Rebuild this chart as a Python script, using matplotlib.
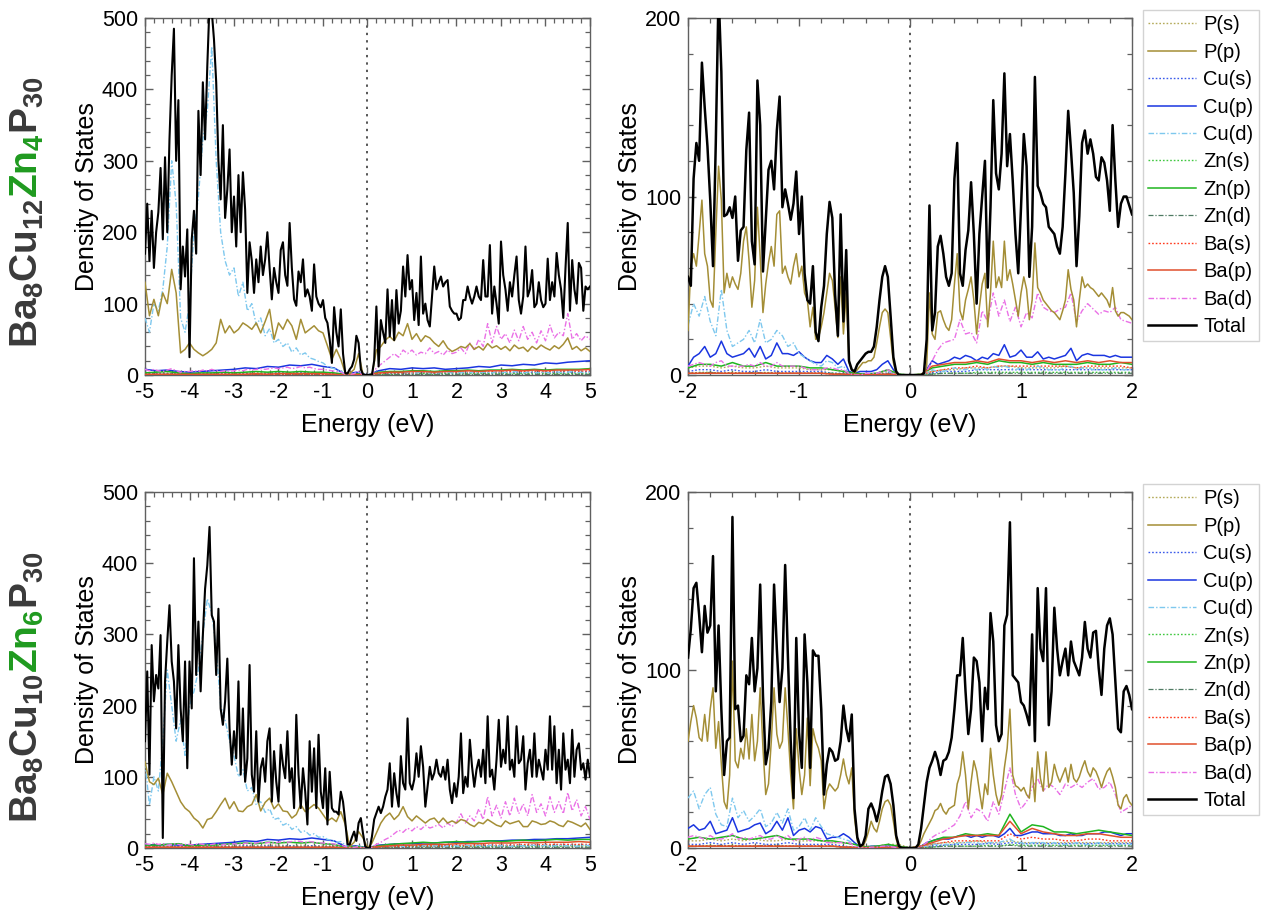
import numpy as np
import matplotlib
matplotlib.use('Agg')
import matplotlib.pyplot as plt
from matplotlib.ticker import MultipleLocator

plt.rcParams['font.family'] = ['Liberation Sans', 'DejaVu Sans']
plt.rcParams['mathtext.fontset'] = 'custom'
plt.rcParams['mathtext.rm'] = 'Liberation Sans'
plt.rcParams['mathtext.bf'] = 'Liberation Sans:bold'
plt.rcParams['mathtext.default'] = 'bf'
plt.rcParams['axes.unicode_minus'] = False

# ------------------------------------------------------------------ labels
series_labels = ['P(s)', 'P(p)', 'Cu(s)', 'Cu(p)', 'Cu(d)', 'Zn(s)', 'Zn(p)',
                 'Zn(d)', 'Ba(s)', 'Ba(p)', 'Ba(d)', 'Total']
formula_top = [(r'$Ba_{8}Cu_{12}$', '#3a3a3a'), (r'$Zn_{4}$', '#1f9a1f'), (r'$P_{30}$', '#3a3a3a')]
formula_bot = [(r'$Ba_{8}Cu_{10}$', '#3a3a3a'), (r'$Zn_{6}$', '#1f9a1f'), (r'$P_{30}$', '#3a3a3a')]

# ================================================================ TOP LEFT (-5..5 eV)
TL_total = [170, 240, 160, 230, 150, 200, 228, 290, 190, 305,
            200, 330, 420, 485, 300, 385, 120, 180, 138, 204,
            25, 190, 230, 170, 370, 280, 410, 330, 433, 520,
            510, 470, 410, 300, 246, 350, 220, 260, 316, 200,
            250, 180, 280, 200, 284, 232, 115, 186, 160, 115,
            162, 130, 180, 140, 162, 200, 150, 106, 150, 130,
            115, 175, 186, 140, 125, 213, 150, 106, 97, 145,
            130, 162, 110, 120, 110, 90, 155, 110, 100, 95,
            105, 80, 73, 50, 17, 95, 60, 40, 92, 30,
            3, 2, 8, 12, 22, 55, 45, 8, 1, 0,
            0,
            0, 0, 20, 96, 12, 77, 60, 45, 120, 54,
            105, 49, 119, 72, 90, 152, 110, 168, 120, 133,
            77, 115, 70, 166, 86, 100, 77, 68, 110, 152,
            120, 130, 138, 124, 130, 133, 96, 90, 86, 86,
            77, 80, 105, 105, 124, 110, 100, 110, 124, 110,
            105, 161, 110, 110, 182, 86, 124, 100, 72, 187,
            140, 120, 90, 130, 110, 140, 166, 105, 86, 110,
            180, 110, 120, 147, 95, 100, 130, 105, 95, 100,
            163, 105, 130, 110, 171, 140, 120, 80, 150, 213,
            90, 161, 120, 100, 157, 150, 90, 124, 120, 124]
TL_pp = [130, 83, 106, 83, 115, 100, 148, 115, 31, 36,
         45, 36, 31, 27, 31, 36, 45, 78, 59, 69,
         59, 64, 73, 69, 64, 73, 59, 75, 92, 50,
         73, 64, 78, 69, 50, 78, 59, 64, 69, 62,
         59, 41, 22, 36, 22, 3, 2, 8, 30, 1,
         0,
         0, 35, 40, 49, 54, 48, 60, 55, 72, 50,
         58, 47, 55, 52, 45, 40, 48, 38, 33, 36,
         40, 38, 44, 36, 40, 35, 44, 38, 41, 36,
         40, 34, 42, 37, 39, 33, 40, 36, 42, 38,
         35, 41, 37, 43, 52, 36, 40, 34, 38, 33]
TL_cud = [80, 60, 100, 90, 120, 180, 300, 240, 80, 60,
          100, 200, 250, 330, 370, 460, 300, 200, 160, 140,
          150, 110, 130, 90, 100, 70, 80, 55, 65, 45,
          50, 40, 45, 32, 38, 28, 31, 24, 22, 19,
          17, 12, 10, 8, 6, 1, 1, 2, 4, 0,
          0,
          0, 4, 3, 4, 3, 5, 4, 3, 4, 3,
          3, 4, 5, 3, 4, 3, 4, 4, 3, 5,
          3, 4, 3, 5, 3, 4, 4, 3, 5, 3,
          4, 3, 5, 4, 3, 4, 5, 3, 4, 4,
          3, 5, 4, 3, 4, 5, 3, 4, 3, 4]
TL_bad = [8, 6, 8, 6, 5, 7, 9, 6, 4, 5,
          5, 6, 5, 7, 6, 8, 6, 5, 6, 5,
          6, 7, 6, 8, 7, 8, 9, 8, 9, 10,
          9, 10, 11, 9, 10, 12, 10, 11, 9, 8,
          8, 7, 6, 5, 4, 1, 1, 2, 5, 0,
          0,
          0, 10, 15, 20, 25, 30, 25, 35, 30, 35,
          28, 32, 30, 38, 30, 33, 28, 35, 30, 32,
          38, 30, 45, 35, 50, 40, 72, 45, 68, 50,
          58, 45, 63, 48, 68, 50, 60, 45, 62, 48,
          70, 52, 60, 55, 86, 50, 58, 48, 55, 50]
TL_ps = [3, 3, 3, 2, 2, 2, 3, 3, 3, 3, 4, 3, 4, 3, 4, 3, 3, 3, 0, 1, 0,
         2, 2, 3, 3, 3, 3, 3, 3, 3, 3, 3, 3, 3, 3, 4, 3, 3, 4, 3, 3]
TL_cus = [2, 2, 2, 1, 1, 1, 2, 2, 2, 2, 2, 2, 3, 2, 3, 2, 2, 2, 0, 1, 0,
          2, 2, 3, 2, 3, 2, 3, 3, 3, 3, 3, 3, 4, 3, 4, 4, 4, 4, 4, 5]
TL_cup = [8, 6, 7, 5, 4, 5, 6, 7, 8, 10, 9, 12, 11, 14, 13, 15, 12, 10, 1, 4, 0,
          6, 9, 8, 10, 9, 10, 8, 9, 10, 12, 11, 14, 13, 15, 14, 17, 16, 18, 19, 20]
TL_zns = [1, 1, 1, 1, 1, 1, 1, 1, 1, 1, 1, 1, 1, 1, 1, 1, 1, 1, 0, 0, 0,
          1, 1, 1, 1, 2, 1, 2, 1, 2, 2, 2, 2, 2, 2, 2, 2, 2, 2, 2, 2]
TL_znp = [3, 4, 5, 3, 2, 3, 3, 4, 3, 4, 5, 4, 5, 4, 5, 4, 4, 3, 1, 2, 0,
          4, 5, 5, 6, 6, 5, 6, 6, 7, 6, 7, 7, 8, 7, 8, 7, 8, 8, 8, 9]
TL_znd = [1, 1, 1, 1, 1, 1, 1, 1, 1, 1, 1, 1, 1, 1, 1, 1, 1, 1, 0, 0, 0,
          1, 1, 1, 1, 1, 1, 1, 1, 1, 1, 1, 1, 1, 1, 1, 1, 1, 1, 1, 1]
TL_bas = [1, 1, 1, 1, 1, 1, 1, 1, 1, 1, 1, 1, 1, 1, 1, 1, 1, 1, 0, 0, 0,
          2, 3, 3, 3, 4, 3, 4, 4, 4, 4, 5, 4, 5, 5, 5, 5, 5, 6, 5, 6]
TL_bap = [1, 1, 1, 1, 1, 1, 1, 1, 1, 1, 2, 1, 2, 2, 2, 2, 2, 1, 0, 1, 0,
          3, 4, 4, 5, 5, 4, 5, 5, 6, 5, 6, 6, 7, 6, 7, 6, 7, 7, 7, 8]

# ================================================================ BOTTOM LEFT (-5..5 eV)
BL_total = [150, 248, 103, 285, 206, 243, 224, 299, 14, 234,
            290, 341, 262, 234, 168, 285, 196, 150, 262, 112,
            262, 196, 407, 243, 318, 220, 299, 364, 397, 451,
            327, 318, 243, 336, 196, 173, 206, 266, 168, 117,
            164, 126, 234, 103, 196, 93, 126, 257, 103, 79,
            164, 65, 112, 126, 93, 150, 168, 65, 136, 93,
            65, 145, 117, 98, 164, 93, 112, 56, 187, 103,
            56, 112, 79, 33, 150, 79, 140, 56, 159, 79,
            56, 112, 33, 107, 56, 51, 51, 47, 79, 65,
            37, 5, 5, 15, 23, 10, 35, 42, 20, 2,
            0,
            0, 16, 40, 49, 58, 49, 58, 72, 82, 119,
            58, 105, 77, 58, 129, 91, 82, 182, 91, 82,
            96, 133, 100, 143, 114, 58, 86, 114, 96, 105,
            124, 105, 100, 114, 96, 124, 82, 63, 91, 72,
            100, 161, 77, 100, 86, 152, 114, 86, 110, 124,
            100, 138, 91, 185, 100, 110, 82, 124, 180, 114,
            138, 119, 185, 110, 124, 100, 171, 119, 124, 157,
            82, 119, 138, 100, 161, 100, 124, 110, 96, 138,
            110, 185, 110, 171, 91, 138, 82, 161, 110, 124,
            91, 166, 100, 138, 147, 110, 119, 96, 124, 100]
BL_pp = [121, 93, 89, 98, 75, 105, 93, 79, 65, 56,
         51, 42, 37, 28, 40, 42, 51, 61, 70, 55,
         65, 52, 51, 58, 61, 75, 52, 64, 70, 55,
         62, 52, 51, 42, 47, 61, 51, 56, 61, 56,
         47, 38, 42, 37, 51, 33, 2, 8, 23, 14,
         0,
         7, 21, 35, 44, 49, 40, 46, 58, 44, 38,
         45, 40, 35, 40, 42, 35, 42, 35, 38, 35,
         40, 38, 33, 30, 36, 34, 40, 36, 32, 30,
         38, 34, 36, 38, 30, 30, 38, 36, 33, 34,
         38, 36, 32, 30, 38, 36, 33, 30, 35, 26]
BL_cud = [120, 60, 100, 80, 150, 250, 200, 150, 180, 130,
          200, 220, 250, 300, 350, 330, 280, 200, 180, 150,
          130, 100, 110, 80, 85, 60, 65, 50, 55, 40,
          42, 32, 35, 26, 30, 22, 24, 18, 20, 15,
          16, 12, 11, 8, 9, 4, 1, 2, 3, 1,
          0,
          1, 3, 2, 4, 3, 3, 4, 2, 3, 4,
          3, 2, 4, 3, 3, 4, 2, 3, 4, 3,
          2, 4, 3, 3, 4, 2, 3, 4, 3, 3,
          4, 2, 3, 4, 3, 2, 4, 3, 3, 4,
          2, 3, 4, 3, 3, 4, 2, 3, 4, 3]
BL_bad = [6, 5, 7, 5, 6, 4, 5, 6, 4, 5,
          5, 4, 6, 5, 4, 5, 6, 4, 5, 5,
          6, 5, 6, 7, 6, 7, 8, 7, 8, 7,
          8, 9, 8, 9, 10, 9, 8, 9, 8, 7,
          7, 6, 6, 5, 4, 2, 1, 1, 2, 0,
          0,
          1, 5, 8, 12, 15, 20, 25, 22, 28, 24,
          30, 26, 32, 28, 30, 33, 28, 35, 30, 36,
          48, 35, 45, 38, 55, 40, 72, 45, 60, 42,
          65, 45, 70, 48, 62, 45, 75, 50, 62, 45,
          72, 50, 65, 48, 78, 52, 68, 45, 58, 40]
BL_ps = [3, 3, 2, 3, 2, 2, 3, 3, 3, 4, 3, 4, 4, 3, 4, 3, 3, 3, 0, 1, 0,
         2, 3, 3, 3, 3, 4, 3, 3, 3, 4, 3, 3, 3, 4, 3, 3, 4, 3, 3, 3]
BL_cus = [2, 2, 1, 2, 1, 1, 2, 2, 2, 3, 2, 3, 2, 3, 2, 3, 2, 2, 0, 1, 0,
          1, 2, 2, 2, 3, 2, 3, 2, 3, 3, 3, 3, 3, 3, 4, 3, 4, 4, 4, 4]
BL_cup = [5, 4, 5, 4, 4, 5, 6, 7, 8, 10, 9, 12, 11, 13, 12, 14, 12, 10, 2, 3, 0,
          4, 5, 6, 6, 7, 7, 8, 8, 9, 9, 10, 10, 11, 11, 12, 12, 13, 13, 14, 15]
BL_zns = [1, 1, 1, 1, 1, 1, 1, 1, 1, 1, 1, 1, 1, 1, 1, 1, 1, 1, 0, 0, 0,
          1, 1, 2, 2, 2, 2, 2, 2, 2, 2, 2, 3, 2, 3, 2, 3, 2, 3, 3, 3]
BL_znp = [4, 4, 5, 6, 3, 4, 4, 5, 6, 7, 6, 8, 7, 8, 7, 8, 6, 5, 1, 2, 0,
          3, 5, 6, 7, 8, 7, 8, 9, 8, 9, 10, 9, 10, 11, 10, 11, 12, 11, 12, 12]
BL_znd = [1, 1, 1, 1, 1, 1, 1, 1, 1, 1, 1, 1, 1, 1, 1, 1, 1, 1, 0, 0, 0,
          1, 1, 1, 1, 1, 1, 1, 1, 1, 1, 1, 1, 1, 1, 1, 1, 1, 1, 1, 1]
BL_bas = [1, 1, 1, 1, 1, 1, 1, 1, 1, 1, 1, 1, 1, 1, 1, 1, 1, 1, 0, 0, 0,
          1, 2, 2, 3, 3, 3, 3, 4, 3, 4, 4, 4, 4, 5, 4, 5, 5, 5, 5, 5]
BL_bap = [1, 1, 1, 1, 1, 1, 1, 1, 1, 1, 1, 1, 1, 1, 1, 1, 1, 1, 0, 0, 0,
          2, 3, 4, 4, 5, 5, 5, 6, 6, 6, 7, 7, 7, 8, 7, 8, 8, 8, 9, 8]

# ================================================================ TOP RIGHT (-2..2 eV)
TR_total = [55, 50, 110, 130, 120, 175, 150, 128, 98, 61,
            130, 215, 170, 89, 90, 94, 88, 100, 64, 81,
            83, 126, 147, 75, 62, 165, 140, 58, 87, 115,
            120, 104, 137, 156, 94, 104, 96, 87, 96, 114,
            79, 100, 57, 42, 40, 61, 24, 19, 38, 50,
            79, 97, 88, 45, 22, 90, 30, 70, 8, 3,
            2, 6, 8, 10, 12, 13, 13, 16, 27, 42,
            55, 61, 55, 33, 10, 2, 0, 0, 0, 0,
            0,
            0, 0, 0, 0, 1, 20, 95, 25, 35, 72,
            78, 68, 55, 50, 57, 110, 130, 57, 50, 70,
            81, 108, 79, 40, 79, 100, 120, 49, 94, 154,
            113, 104, 124, 169, 117, 135, 109, 79, 57, 94,
            135, 117, 55, 83, 167, 106, 102, 96, 94, 83,
            81, 79, 72, 68, 83, 113, 148, 126, 102, 61,
            89, 130, 137, 124, 132, 124, 111, 109, 122, 119,
            109, 92, 140, 109, 83, 96, 100, 100, 95, 90]
TR_pp = [25, 61, 68, 61, 79, 98, 68, 61, 42, 38,
         79, 117, 98, 46, 57, 49, 55, 51, 48, 57,
         75, 83, 64, 38, 53, 94, 66, 35, 51, 63,
         72, 61, 90, 92, 57, 61, 55, 51, 61, 68,
         55, 61, 46, 42, 27, 38, 20, 21, 27, 35,
         46, 57, 53, 38, 21, 55, 23, 46, 7, 3,
         1, 3, 5, 7, 7, 8, 8, 10, 18, 27,
         35, 37, 35, 21, 7, 1, 0, 0, 0, 0,
         0,
         0, 0, 0, 0, 0, 5, 46, 23, 20, 35,
         36, 31, 27, 25, 31, 51, 68, 36, 31, 42,
         48, 55, 42, 23, 38, 51, 57, 27, 46, 75,
         49, 55, 49, 75, 53, 59, 51, 42, 33, 46,
         55, 48, 31, 42, 74, 49, 46, 42, 40, 38,
         36, 35, 33, 31, 36, 42, 59, 48, 42, 27,
         42, 55, 49, 51, 49, 48, 46, 44, 46, 44,
         42, 38, 49, 36, 33, 35, 35, 34, 33, 31]
TR_cud = [28, 40, 33, 44, 30, 22, 48, 25, 16, 18,
          20, 25, 18, 31, 18, 20, 25, 22, 16, 18,
          12, 10, 8, 6, 5, 8, 7, 4, 5, 1,
          0, 0.5, 1, 1, 1, 2, 2, 1, 0, 0,
          0,
          0, 0, 1, 3, 2, 2, 3, 4, 3, 3,
          4, 3, 4, 3, 5, 4, 5, 4, 3, 4,
          3, 4, 5, 4, 3, 3, 3, 4, 5, 3,
          4, 4, 3, 3, 3, 3, 4, 3, 3, 3]
TR_cup = [5, 10, 12, 16, 10, 12, 19, 12, 10, 11,
          12, 15, 10, 16, 9, 11, 18, 12, 12, 11,
          13, 10, 8, 7, 7, 11, 9, 6, 9, 2,
          1, 2, 2, 2, 3, 6, 8, 3, 0, 0,
          0,
          0, 0, 3, 8, 6, 7, 8, 10, 9, 11,
          10, 8, 10, 9, 12, 11, 17, 10, 11, 14,
          10, 10, 13, 9, 10, 9, 10, 11, 15, 8,
          11, 12, 11, 11, 11, 10, 11, 10, 10, 10]
TR_bad = [5, 6, 7, 6, 5, 7, 8, 5, 5, 5,
          5, 6, 5, 7, 5, 5, 7, 5, 5, 5,
          5, 4, 3, 3, 3, 4, 4, 3, 3, 1,
          0, 0, 1, 1, 1, 2, 3, 1, 0, 0,
          0,
          0, 0, 2, 8, 14, 18, 19, 20, 31, 23,
          24, 18, 36, 30, 46, 33, 42, 30, 38, 27,
          35, 32, 46, 38, 36, 35, 37, 38, 46, 30,
          36, 40, 37, 34, 36, 35, 38, 31, 30, 29]
TR_ps = [4, 5, 5, 4, 5, 4, 4, 5, 4, 4, 4, 3, 3, 3, 2, 1, 0.5, 1, 2, 0.5,
         0,
         0.5, 2, 3, 3, 4, 4, 4, 5, 5, 4, 4, 4, 4, 5, 4, 4, 4, 4, 4, 4]
TR_cus = [2, 3, 3, 2, 3, 2, 2, 3, 2, 2, 2, 2, 2, 1, 1, 0.5, 0.3, 0.5, 1, 0.3,
          0,
          0.3, 1, 2, 2, 2, 3, 3, 3, 3, 3, 3, 3, 3, 3, 3, 3, 3, 3, 3, 3]
TR_zns = [1, 1.5, 1.5, 1, 1.5, 1, 1, 1.5, 1, 1, 1, 1, 1, 1, 0.5, 0.3, 0.2, 0.3, 0.5, 0.2,
          0,
          0.2, 0.5, 1, 1, 1, 1.5, 1.5, 1.5, 1.5, 1.5, 1.5, 1.5, 1.5, 1.5, 1.5, 1.5, 1.5, 1.5, 1.5, 1.5]
TR_znp = [4, 6, 6, 5, 7, 5, 5, 7, 5, 5, 5, 4, 4, 3, 2, 1, 0.5, 1, 3, 0.5,
          0,
          0.5, 4, 5, 6, 6, 7, 6, 8, 7, 7, 6, 7, 6, 6, 6, 7, 6, 6, 7, 6]
TR_znd = [1, 1, 1.5, 1, 1, 1, 1.5, 1, 1, 1, 1, 1, 1, 1, 0.5, 0.3, 0.2, 0.3, 0.5, 0.2,
          0,
          0.2, 0.5, 1, 1, 1, 1, 1, 1, 1, 1, 1, 1, 1, 1, 1, 1, 1, 1, 1, 1]
TR_bas = [1, 1, 1, 1, 1, 1, 1, 1, 1, 1, 1, 1, 1, 0.5, 0.5, 0.3, 0.2, 0.3, 0.5, 0.2,
          0,
          0.2, 2, 3, 4, 4, 5, 4, 5, 5, 5, 5, 5, 5, 5, 4, 5, 5, 5, 5, 4]
TR_bap = [1, 1, 1, 1, 1, 1, 1, 1, 1, 1, 1, 1, 1, 0.5, 0.5, 0.3, 0.2, 0.3, 0.5, 0.2,
          0,
          0.3, 5, 6, 7, 7, 8, 7, 9, 8, 8, 7, 8, 7, 8, 7, 8, 7, 8, 7, 7]

# ================================================================ BOTTOM RIGHT (-2..2 eV)
BR_total = [107, 123, 146, 149, 131, 110, 136, 121, 125, 164,
            88, 125, 78, 41, 60, 62, 186, 78, 80, 60,
            63, 97, 92, 118, 88, 101, 148, 86, 47, 56,
            82, 148, 112, 82, 101, 159, 107, 60, 28, 118,
            65, 45, 120, 93, 45, 111, 108, 108, 78, 30,
            47, 56, 54, 49, 50, 60, 80, 67, 60, 75,
            22, 6, 1, 2, 7, 22, 25, 21, 15, 22,
            32, 40, 41, 36, 24, 7, 1, 0, 0, 0,
            0,
            0, 0, 2, 11, 24, 37, 45, 49, 54, 49,
            41, 49, 50, 54, 62, 78, 97, 97, 118, 88,
            64, 78, 107, 105, 93, 60, 90, 78, 132, 116,
            69, 60, 64, 125, 131, 183, 97, 95, 93, 82,
            80, 75, 69, 120, 60, 146, 112, 105, 146, 69,
            88, 135, 112, 97, 105, 112, 97, 116, 105, 101,
            97, 107, 127, 112, 107, 121, 122, 101, 86, 112,
            125, 129, 120, 93, 67, 65, 88, 91, 86, 78]
BR_pp = [60, 71, 80, 73, 62, 60, 75, 60, 78, 90,
         56, 71, 47, 26, 22, 41, 105, 49, 45, 56,
         50, 67, 50, 75, 49, 60, 90, 56, 30, 36,
         60, 90, 64, 56, 60, 90, 67, 41, 22, 67,
         45, 30, 41, 73, 35, 67, 60, 56, 49, 22,
         32, 36, 34, 32, 34, 41, 50, 41, 36, 45,
         17, 4, 0.5, 1, 4, 9, 15, 11, 9, 15,
         22, 26, 27, 24, 15, 5, 0.5, 0, 0, 0,
         0,
         0, 0, 1, 4, 8, 11, 14, 17, 21, 22,
         25, 21, 19, 22, 23, 24, 36, 41, 54, 41,
         22, 37, 49, 43, 32, 22, 36, 30, 56, 41,
         30, 24, 30, 45, 56, 78, 41, 35, 34, 32,
         34, 30, 28, 45, 26, 54, 39, 32, 54, 34,
         37, 47, 41, 37, 41, 45, 37, 47, 39, 37,
         40, 45, 49, 43, 40, 45, 43, 39, 34, 39,
         43, 45, 40, 34, 24, 22, 28, 30, 26, 24]
BR_cud = [28, 32, 22, 30, 34, 19, 13, 12, 28, 17,
          21, 15, 18, 22, 12, 14, 20, 14, 22, 10,
          12, 17, 10, 17, 12, 8, 7, 6, 5, 4,
          2, 0.5, 0.5, 1, 1, 1, 1, 1, 0, 0,
          0,
          0, 1, 1, 2, 2, 2, 2, 2, 3, 3,
          3, 3, 2, 3, 3, 3, 4, 5, 3, 3,
          2, 3, 3, 3, 2, 3, 2, 2, 2, 3,
          2, 2, 2, 3, 2, 2, 2, 2, 2, 2]
BR_cup = [11, 13, 10, 11, 15, 8, 9, 10, 17, 9,
          10, 11, 13, 14, 8, 10, 15, 10, 17, 7,
          10, 11, 9, 12, 11, 5, 6, 6, 8, 6,
          3, 0.5, 0.5, 1, 1, 1, 1, 1, 0, 0,
          0,
          0, 1, 3, 4, 5, 5, 5, 6, 7, 7,
          6, 7, 6, 7, 7, 6, 8, 11, 7, 7,
          8, 9, 9, 8, 8, 8, 7, 7, 8, 7,
          7, 8, 8, 8, 9, 9, 8, 7, 8, 8]
BR_bad = [6, 7, 6, 5, 7, 5, 5, 6, 8, 5,
          6, 5, 6, 7, 5, 5, 7, 5, 7, 4,
          5, 6, 4, 6, 5, 3, 3, 3, 3, 3,
          1, 0, 0, 0.5, 0.5, 1, 1, 0.5, 0, 0,
          0,
          0, 1, 3, 6, 8, 9, 11, 13, 18, 26,
          17, 22, 20, 15, 26, 19, 32, 45, 30, 22,
          26, 34, 39, 32, 36, 34, 30, 36, 34, 36,
          34, 37, 39, 33, 34, 37, 30, 20, 22, 24]
BR_ps = [4, 4, 5, 4, 5, 4, 5, 4, 4, 5, 4, 4, 4, 3, 3, 2, 1, 1, 2, 2,
         0,
         1, 2, 3, 3, 3, 4, 3, 3, 4, 3, 3, 3, 3, 3, 3, 3, 3, 3, 3, 3]
BR_cus = [2, 2, 3, 2, 3, 2, 3, 2, 2, 3, 2, 2, 2, 2, 1, 0.5, 0.3, 0.5, 1, 0.5,
          0,
          0.3, 1, 1.5, 2, 2, 2, 2.5, 2, 3, 2.5, 2.5, 2.5, 2.5, 2.5, 2.5, 2.5, 2.5, 2.5, 2.5, 2.5]
BR_zns = [1, 1, 1.5, 1, 1.5, 1, 1, 1, 1.5, 1, 1, 1, 1, 1, 0.5, 0.3, 0.2, 0.3, 0.5, 0.3,
          0,
          0.2, 0.5, 1, 1, 1, 1, 1.5, 1, 2, 1.5, 1.5, 1.5, 1.5, 1.5, 1.5, 1.5, 1.5, 1.5, 1.5, 1.5]
BR_znp = [5, 6, 5, 6, 7, 5, 5, 6, 7, 5, 5, 5, 4, 4, 3, 2, 0.5, 1, 2, 1,
          0,
          1, 4, 6, 6, 8, 7, 8, 7, 19, 9, 13, 12, 9, 9, 8, 9, 10, 9, 8, 7]
BR_znd = [1, 1, 1, 1.5, 1, 1, 1, 1.5, 1, 1, 1, 1, 1, 1, 0.5, 0.3, 0.2, 0.3, 0.5, 0.3,
          0,
          0.2, 0.5, 1, 1, 1, 1, 1, 1, 1.5, 1, 1, 1, 1, 1, 1, 1, 1, 1, 1, 1]
BR_bas = [1, 1, 1, 1, 1, 1, 1, 1, 1, 1, 1, 1, 1, 1, 0.5, 0.3, 0.2, 0.3, 0.5, 0.3,
          0,
          0.3, 2, 3, 4, 4, 4, 4, 4, 8, 5, 6, 5, 5, 4, 4, 5, 5, 4, 4, 4]
BR_bap = [1, 1, 1, 1, 1, 1, 1, 1, 1, 1, 1, 1, 1, 1, 0.5, 0.3, 0.2, 0.3, 0.5, 0.3,
          0,
          1, 3, 5, 6, 7, 7, 7, 7, 15, 8, 11, 9, 8, 7, 7, 8, 8, 7, 6, 6]

# ------------------------------------------------------------------ styles
DOT = (0, (1.2, 1.4))
DASHDOT = (0, (4, 1.5, 1, 1.5))
styles = {
    'P(s)':  dict(color='#b4aa5a', ls=DOT, lw=1.0, z=2),
    'P(p)':  dict(color='#a48e36', ls='-', lw=1.1, z=4),
    'Cu(s)': dict(color='#3b5bea', ls=DOT, lw=1.0, z=2),
    'Cu(p)': dict(color='#1a35e0', ls='-', lw=1.1, z=3),
    'Cu(d)': dict(color='#7ec8ee', ls=DASHDOT, lw=1.0, z=3),
    'Zn(s)': dict(color='#40c840', ls=DOT, lw=1.0, z=2),
    'Zn(p)': dict(color='#1fb51f', ls='-', lw=1.1, z=3),
    'Zn(d)': dict(color='#4f7a62', ls=DASHDOT, lw=0.9, z=2),
    'Ba(s)': dict(color='#ff3a1e', ls=DOT, lw=1.0, z=2),
    'Ba(p)': dict(color='#e0502c', ls='-', lw=1.1, z=3),
    'Ba(d)': dict(color='#ea70e6', ls=DASHDOT, lw=1.0, z=3),
    'Total': dict(color='black', ls='-', lw=1.5, z=5),
}

panels = [
    dict(rect=[0.1149, 0.5919, 0.3526, 0.3885], xlim=(-5, 5), ylim=(0, 500),
         data=[TL_ps, TL_pp, TL_cus, TL_cup, TL_cud, TL_zns, TL_znp, TL_znd, TL_bas, TL_bap, TL_bad, TL_total],
         legend=False, tlw=1.5),
    dict(rect=[0.5452, 0.5919, 0.3518, 0.3885], xlim=(-2, 2), ylim=(0, 200),
         data=[TR_ps, TR_pp, TR_cus, TR_cup, TR_cud, TR_zns, TR_znp, TR_znd, TR_bas, TR_bap, TR_bad, TR_total],
         legend=True, tlw=1.8),
    dict(rect=[0.1149, 0.0773, 0.3526, 0.3873], xlim=(-5, 5), ylim=(0, 500),
         data=[BL_ps, BL_pp, BL_cus, BL_cup, BL_cud, BL_zns, BL_znp, BL_znd, BL_bas, BL_bap, BL_bad, BL_total],
         legend=False, tlw=1.5),
    dict(rect=[0.5452, 0.0773, 0.3518, 0.3873], xlim=(-2, 2), ylim=(0, 200),
         data=[BR_ps, BR_pp, BR_cus, BR_cup, BR_cud, BR_zns, BR_znp, BR_znd, BR_bas, BR_bap, BR_bad, BR_total],
         legend=True, tlw=1.8),
]

fig = plt.figure(figsize=(12.62, 9.19), dpi=100)
spine_col = '#606060'
for p in panels:
    ax = fig.add_axes(p['rect'])
    handles = []
    for lab, arr in zip(series_labels, p['data']):
        st = styles[lab]
        e = np.linspace(p['xlim'][0], p['xlim'][1], len(arr))
        lw = p['tlw'] if lab == 'Total' else st['lw']
        h, = ax.plot(e, arr, color=st['color'], ls=st['ls'], lw=lw, zorder=st['z'], label=lab)
        handles.append(h)
    ax.axvline(0, color='#555555', ls=(0, (1.2, 2.6)), lw=1.4, zorder=1)
    ax.set_xlim(*p['xlim'])
    ax.set_ylim(*p['ylim'])
    ax.xaxis.set_major_locator(MultipleLocator(1))
    ax.xaxis.set_minor_locator(MultipleLocator(0.2))
    ax.yaxis.set_major_locator(MultipleLocator(100))
    ax.yaxis.set_minor_locator(MultipleLocator(20))
    ax.tick_params(which='both', direction='in', top=True, right=True,
                   labelsize=15.5, color=spine_col, pad=5)
    ax.tick_params(which='major', length=6, width=1.0)
    ax.tick_params(which='minor', length=3.5, width=0.9)
    for s in ax.spines.values():
        s.set_color(spine_col)
        s.set_linewidth(1.0)
    ax.set_xlabel('Energy (eV)', fontsize=18, labelpad=7)
    ax.set_ylabel('Density of States', fontsize=18, labelpad=2)
    if p['legend']:
        ax.legend(handles=handles, loc='upper left', bbox_to_anchor=(1.0248, 1.022),
                  fontsize=14.5, frameon=True, fancybox=False, edgecolor='#c8c8c8',
                  handlelength=2.4, labelspacing=0.42, borderpad=0.25,
                  handletextpad=0.35, borderaxespad=0.0)


def draw_formula(pieces, x_frac, yc_frac, fs=28):
    texts = []
    for s, c in pieces:
        t = fig.text(x_frac, 0.5, s, color=c, fontsize=fs, rotation=90,
                     rotation_mode='anchor', ha='left', va='baseline')
        texts.append(t)
    fig.canvas.draw()
    r = fig.canvas.get_renderer()
    lens = [t.get_window_extent(r).height / fig.bbox.height for t in texts]
    y = yc_frac - sum(lens) / 2
    for t, L in zip(texts, lens):
        t.set_y(y)
        y += L


draw_formula(formula_top, 38 / 1262, 1 - 212 / 919)
draw_formula(formula_bot, 38 / 1262, 1 - 687 / 919)

fig.savefig('out.png', dpi=100)
